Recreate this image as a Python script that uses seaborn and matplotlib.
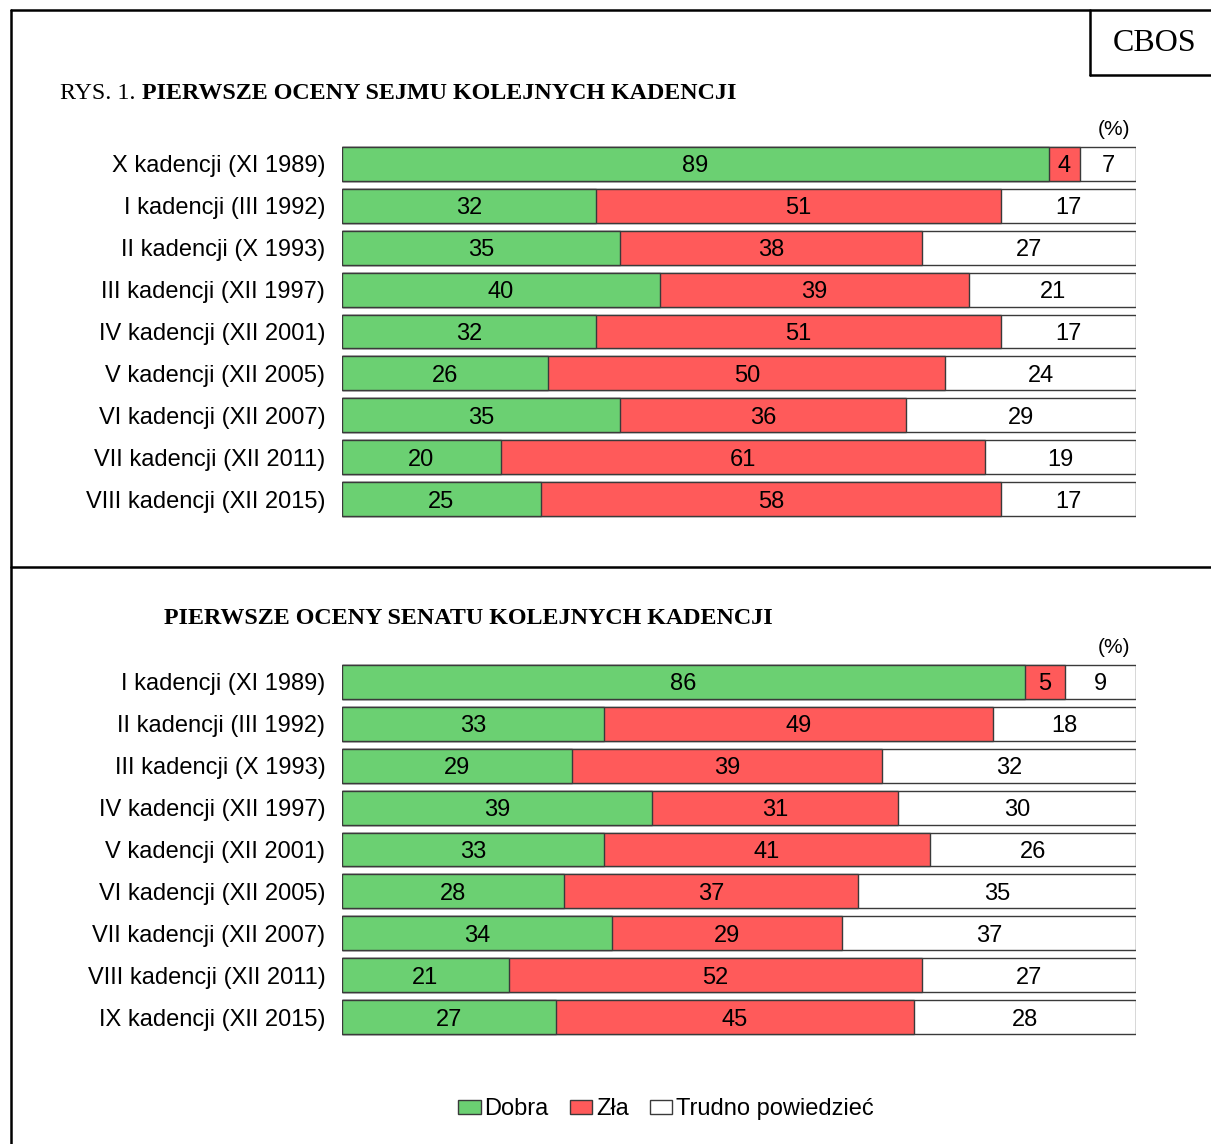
import matplotlib
matplotlib.use("Agg")
import matplotlib.pyplot as plt
import seaborn as sns
import pandas as pd
import numpy as np
from matplotlib.patches import Patch
from matplotlib.lines import Line2D

sns.set_theme(style="white")
plt.rcParams['font.family'] = ['Liberation Sans', 'DejaVu Sans']
plt.rcParams['text.color'] = 'black'
plt.rcParams['ytick.color'] = 'black'
plt.rcParams['xtick.color'] = 'black'

sejm_labels = ["X kadencji (XI 1989)", "I kadencji (III 1992)", "II kadencji (X 1993)",
               "III kadencji (XII 1997)", "IV kadencji (XII 2001)", "V kadencji (XII 2005)",
               "VI kadencji (XII 2007)", "VII kadencji (XII 2011)", "VIII kadencji (XII 2015)"]
sejm_dobra = [89, 32, 35, 40, 32, 26, 35, 20, 25]
sejm_zla = [4, 51, 38, 39, 51, 50, 36, 61, 58]
sejm_trudno = [7, 17, 27, 21, 17, 24, 29, 19, 17]

senat_labels = ["I kadencji (XI 1989)", "II kadencji (III 1992)", "III kadencji (X 1993)",
                "IV kadencji (XII 1997)", "V kadencji (XII 2001)", "VI kadencji (XII 2005)",
                "VII kadencji (XII 2007)", "VIII kadencji (XII 2011)", "IX kadencji (XII 2015)"]
senat_dobra = [86, 33, 29, 39, 33, 28, 34, 21, 27]
senat_zla = [5, 49, 39, 31, 41, 37, 29, 52, 45]
senat_trudno = [9, 18, 32, 30, 26, 35, 37, 27, 28]

series_names = ["Dobra", "Zła", "Trudno powiedzieć"]
colors = ["#6BD072", "#FF5A5A", "#FFFFFF"]
edge = "#3a3a3a"

W, H = 1211, 1144
fig = plt.figure(figsize=(W / 100, H / 100), dpi=100)
FS = 17


def draw(rect, labels, d, z, t):
    ax = fig.add_axes(rect)
    df = pd.DataFrame({"label": labels, "d": d, "z": z, "t": t})
    df["dz"] = df["d"] + df["z"]
    df["tot"] = df["dz"] + df["t"]
    for col, c in (("tot", colors[2]), ("dz", colors[1]), ("d", colors[0])):
        sns.barplot(data=df, x=col, y="label", orient="h", color=c, width=0.81,
                    edgecolor=edge, linewidth=1.0, saturation=1, ax=ax)
    for i, row in df.iterrows():
        for xc, v in ((row["d"] / 2, row["d"]),
                      (row["d"] + row["z"] / 2, row["z"]),
                      (row["dz"] + row["t"] / 2, row["t"])):
            ax.text(xc, i, f"{v}", ha="center", va="center_baseline", fontsize=FS, color="black")
    ax.set_xlim(0, 100)
    ax.set_ylim(len(labels) - 0.5, -0.5)
    ax.set_xlabel("")
    ax.set_ylabel("")
    ax.set_xticks([])
    for s in ax.spines.values():
        s.set_visible(False)
    ax.tick_params(axis="y", length=0, pad=12, labelsize=FS, labelcolor="black")
    for lab in ax.get_yticklabels():
        lab.set_verticalalignment("center_baseline")
    ax.text(0.972, 1.01, "(%)", transform=ax.transAxes, ha="center", va="bottom", fontsize=15)
    return ax


x0, wdt = 342 / W, 794 / W
top1, bot1 = 143, 520
top2, bot2 = 661, 1038
draw([x0, 1 - bot1 / H, wdt, (bot1 - top1) / H], sejm_labels, sejm_dobra, sejm_zla, sejm_trudno)
draw([x0, 1 - bot2 / H, wdt, (bot2 - top2) / H], senat_labels, senat_dobra, senat_zla, senat_trudno)


def fx(px):
    return px / W


def fy(py):
    return 1 - py / H


lw = 1.8
fig.add_artist(Line2D([fx(11), fx(11)], [fy(10), fy(1144)], transform=fig.transFigure, color="black", lw=lw))
fig.add_artist(Line2D([fx(11), 1], [fy(10), fy(10)], transform=fig.transFigure, color="black", lw=lw))
fig.add_artist(Line2D([fx(11), 1], [fy(567), fy(567)], transform=fig.transFigure, color="black", lw=lw))
fig.add_artist(Line2D([fx(1090), fx(1090)], [fy(10), fy(75)], transform=fig.transFigure, color="black", lw=lw))
fig.add_artist(Line2D([fx(1090), 1], [fy(75), fy(75)], transform=fig.transFigure, color="black", lw=lw))
fig.text(fx(1155), fy(40), "CBOS", ha="center", va="center_baseline", fontsize=23, family="Liberation Serif")

# titles
TFS = 17.3
t1 = fig.text(fx(60), fy(91), "RYS. 1. ", ha="left", va="center_baseline", fontsize=TFS, family="Liberation Serif")
fig.canvas.draw()
bb = t1.get_window_extent()
fig.text(bb.x1 / W, fy(91), "PIERWSZE OCENY SEJMU KOLEJNYCH KADENCJI", ha="left", va="center_baseline",
         fontsize=TFS, family="Liberation Serif", weight="bold")
fig.text(fx(164), fy(616), "PIERWSZE OCENY SENATU KOLEJNYCH KADENCJI", ha="left", va="center_baseline",
         fontsize=TFS, family="Liberation Serif", weight="bold")

handles = [Patch(facecolor=c, edgecolor=edge, linewidth=1.0, label=n) for c, n in zip(colors, series_names)]
fig.legend(handles=handles, loc="center", bbox_to_anchor=(fx(666), fy(1109)), ncol=3, frameon=False,
           fontsize=FS, handlelength=0.95, handleheight=0.55, handletextpad=0.15, columnspacing=0.9)

fig.savefig("out.png", dpi=100)
